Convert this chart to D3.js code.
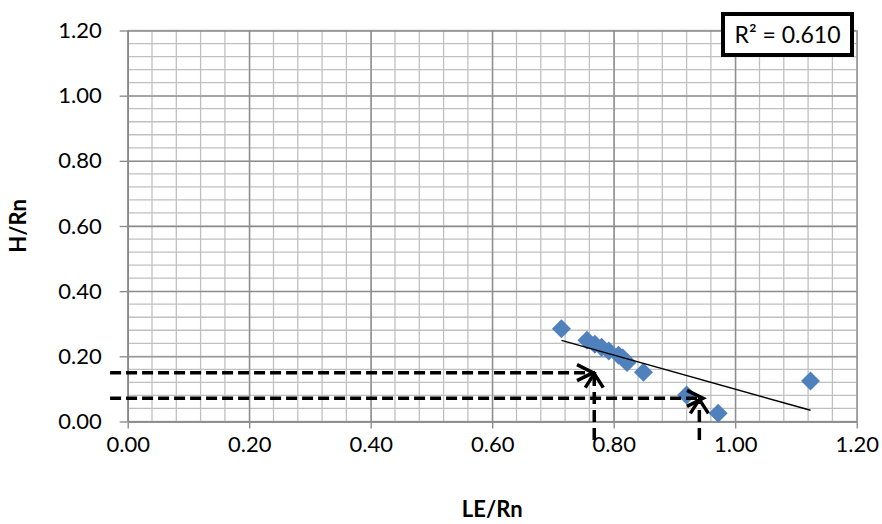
<!DOCTYPE html>
<html>
<head>
<meta charset="utf-8">
<script src="https://cdn.jsdelivr.net/npm/d3@7"></script>
<style>
  body { margin: 0; background: #fff; }
  text { font-family: Lato, "Open Sans", sans-serif; fill: #000; }
</style>
</head>
<body>
<div id="vis"></div>
<script>
// values
const leRn = [0.714, 0.756, 0.769, 0.780, 0.792, 0.808, 0.815, 0.822, 0.849, 0.920, 0.972, 1.124];
const hRn  = [0.285, 0.249, 0.237, 0.228, 0.216, 0.203, 0.195, 0.181, 0.151, 0.081, 0.025, 0.124];
const xTicks = [0, 0.2, 0.4, 0.6, 0.8, 1.0, 1.2];
const yTicks = [0, 0.2, 0.4, 0.6, 0.8, 1.0, 1.2];
const rSquared = "R² = 0.610";

// dashed reading guides: horizontal from left, vertical from below
const guideY  = [0.150, 0.071];
const guideHX = [0.766, 0.947];
const guideVX = [0.768, 0.941];

function createVis() {
  const width = 882;
  const height = 524;
  const margin = { left: 127.7, right: 25.3, top: 30.5, bottom: 102.5 };

  const x = d3.scaleLinear().domain([0, 1.2]).range([margin.left, width - margin.right]);
  const y = d3.scaleLinear().domain([0, 1.2]).range([height - margin.bottom, margin.top]);

  const svg = d3.select("#vis")
    .append("svg")
    .attr("width", width)
    .attr("height", height)
    .attr("viewBox", [0, 0, width, height]);

  const minor = d3.range(0, 1.2001, 0.04);

  // minor grid
  svg.append("g")
    .selectAll("line")
    .data(minor)
    .join("line")
    .attr("x1", d => x(d)).attr("x2", d => x(d))
    .attr("y1", y(0)).attr("y2", y(1.2))
    .attr("stroke", "#c0c0c0").attr("stroke-width", 1.3);

  svg.append("g")
    .selectAll("line")
    .data(minor)
    .join("line")
    .attr("y1", d => y(d)).attr("y2", d => y(d))
    .attr("x1", x(0)).attr("x2", x(1.2))
    .attr("stroke", "#c0c0c0").attr("stroke-width", 1.3);

  // major grid + axes
  const xAxis = svg.append("g")
    .attr("transform", `translate(0,${y(0)})`)
    .call(d3.axisBottom(x).tickValues(xTicks).tickFormat(d3.format(".2f"))
      .tickSizeInner(-(y(0) - y(1.2))).tickSizeOuter(0).tickPadding(15));
  xAxis.select(".domain").attr("stroke", "#868686").attr("stroke-width", 1.5);
  xAxis.selectAll(".tick line").attr("stroke", "#8c8c8c").attr("stroke-width", 1.3);
  xAxis.selectAll(".tick").append("line")
    .attr("y1", 0).attr("y2", 7).attr("stroke", "#868686").attr("stroke-width", 1.3);
  xAxis.selectAll(".tick text").attr("font-size", 22).attr("font-family", "Lato, sans-serif").attr("fill", "#000");

  const yAxis = svg.append("g")
    .attr("transform", `translate(${x(0)},0)`)
    .call(d3.axisLeft(y).tickValues(yTicks).tickFormat(d3.format(".2f"))
      .tickSizeInner(-(x(1.2) - x(0))).tickSizeOuter(0).tickPadding(26));
  yAxis.select(".domain").attr("stroke", "#868686").attr("stroke-width", 1.5);
  yAxis.selectAll(".tick line").attr("stroke", "#8c8c8c").attr("stroke-width", 1.3);
  yAxis.selectAll(".tick").append("line")
    .attr("x1", 0).attr("x2", -8).attr("stroke", "#868686").attr("stroke-width", 1.3);
  yAxis.selectAll(".tick text").attr("font-size", 22).attr("font-family", "Lato, sans-serif").attr("fill", "#000");

  // axis titles
  svg.append("text")
    .attr("x", (x(0) + x(1.2)) / 2).attr("y", 517)
    .attr("text-anchor", "middle")
    .attr("font-size", 22).attr("font-weight", "bold")
    .text("LE/Rn");

  svg.append("text")
    .attr("transform", `translate(26,${(y(0) + y(1.2)) / 2}) rotate(-90)`)
    .attr("text-anchor", "middle")
    .attr("font-size", 22).attr("font-weight", "bold")
    .text("H/Rn");

  // points
  const pts = leRn.map((v, i) => [v, hRn[i]]);
  svg.append("g")
    .selectAll("path")
    .data(pts)
    .join("path")
    .attr("d", d3.symbol(d3.symbolDiamond2, 230))
    .attr("transform", d => `translate(${x(d[0])},${y(d[1])})`)
    .attr("fill", "#4f81bd");

  // linear trendline from the points
  const mx = d3.mean(leRn), my = d3.mean(hRn);
  const slope = d3.sum(pts, d => (d[0] - mx) * (d[1] - my)) / d3.sum(pts, d => (d[0] - mx) ** 2);
  const icpt = my - slope * mx;
  const xr = d3.extent(leRn);
  svg.append("line")
    .attr("x1", x(xr[0])).attr("y1", y(icpt + slope * xr[0]))
    .attr("x2", x(xr[1])).attr("y2", y(icpt + slope * xr[1]))
    .attr("stroke", "#000").attr("stroke-width", 1.5);

  // dashed guides with arrowheads
  const guides = svg.append("g").attr("stroke", "#000").attr("fill", "none")
    .attr("stroke-width", 3.5);
  guideY.forEach((gy, i) => {
    guides.append("line")
      .attr("x1", x(-0.029)).attr("x2", x(guideHX[i]) - 2)
      .attr("y1", y(gy)).attr("y2", y(gy))
      .attr("stroke-dasharray", "11,5");
    guides.append("line")
      .attr("x1", x(guideVX[i])).attr("x2", x(guideVX[i]))
      .attr("y1", y(-0.057)).attr("y2", y(gy) + 2)
      .attr("stroke-dasharray", "12,6");
    const hx = x(guideHX[i]), hy = y(gy);
    guides.append("path")
      .attr("d", `M${hx - 16},${hy - 8}L${hx},${hy}L${hx - 16},${hy + 8}`);
    const vx = x(guideVX[i]), vy = y(gy) + 1;
    guides.append("path")
      .attr("d", `M${vx - 9},${vy + 14}L${vx},${vy}L${vx + 9},${vy + 14}`);
  });

  // R² label
  const box = svg.append("g").attr("transform", "translate(723,14)");
  box.append("rect")
    .attr("width", 129).attr("height", 41)
    .attr("fill", "#fff").attr("stroke", "#000").attr("stroke-width", 4);
  box.append("text")
    .attr("x", 64.5).attr("y", 29)
    .attr("text-anchor", "middle").attr("font-size", 23)
    .text(rSquared);
}

window.addEventListener("load", createVis);
</script>
</body>
</html>
